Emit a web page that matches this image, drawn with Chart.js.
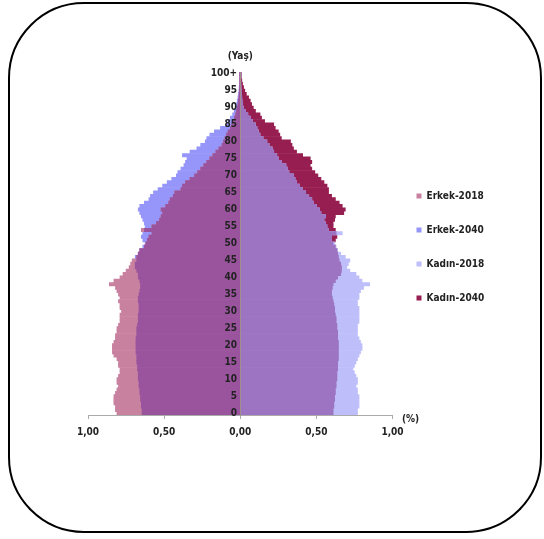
<!DOCTYPE html>
<html>
<head>
<meta charset="utf-8">
<script src="https://cdn.jsdelivr.net/npm/chart.js@4"></script>
<style>
  html, body { margin: 0; padding: 0; background: #fff; }
  #frame {
    position: absolute; left: 8px; top: 2px; width: 534px; height: 531px;
    box-sizing: border-box; border: 2px solid #000; border-radius: 76px;
  }
  #wrap { position: absolute; left: 0; top: 0; width: 544px; height: 539px; }
</style>
</head>
<body>
<div id="frame"></div>
<div id="wrap"><canvas id="piramit"></canvas></div>
<script>
// yaş grupları 0 .. 100+
const yaslar = Array.from({ length: 101 }, (_, i) => i === 100 ? "100+" : String(i));

// nüfus oranları (%), yaş 0'dan 100+'ya
const erkek2018 = [
  0.81, 0.82, 0.82, 0.83, 0.83, 0.83, 0.82, 0.81, 0.80, 0.81,
  0.81, 0.80, 0.79, 0.79, 0.80, 0.80, 0.81, 0.83, 0.84, 0.84,
  0.84, 0.83, 0.82, 0.82, 0.81, 0.81, 0.80, 0.79, 0.79, 0.79,
  0.78, 0.79, 0.79, 0.80, 0.79, 0.80, 0.81, 0.82, 0.86, 0.83,
  0.79, 0.77, 0.75, 0.73, 0.72, 0.71, 0.68, 0.67, 0.66, 0.63,
  0.62, 0.61, 0.60, 0.58, 0.65, 0.58, 0.55, 0.53, 0.52, 0.51,
  0.52, 0.49, 0.47, 0.46, 0.44, 0.43, 0.39, 0.38, 0.36, 0.33,
  0.30, 0.28, 0.26, 0.24, 0.22, 0.20, 0.18, 0.16, 0.14, 0.12,
  0.11, 0.10, 0.09, 0.08, 0.065, 0.055, 0.045, 0.038, 0.03, 0.025,
  0.02, 0.015, 0.012, 0.009, 0.007, 0.005, 0.004, 0.003, 0.002, 0.002,
  0.003
];
const erkek2040 = [
  0.645, 0.645, 0.65, 0.65, 0.655, 0.655, 0.66, 0.66, 0.665, 0.665,
  0.67, 0.67, 0.67, 0.675, 0.675, 0.68, 0.68, 0.68, 0.685, 0.685,
  0.685, 0.685, 0.685, 0.68, 0.68, 0.68, 0.675, 0.67, 0.67, 0.67,
  0.665, 0.665, 0.665, 0.67, 0.67, 0.665, 0.66, 0.655, 0.655, 0.66,
  0.67, 0.67, 0.68, 0.69, 0.69, 0.68, 0.69, 0.67, 0.66, 0.64,
  0.625, 0.64, 0.65, 0.64, 0.63, 0.625, 0.63, 0.64, 0.65, 0.66,
  0.67, 0.66, 0.63, 0.60, 0.59, 0.57, 0.54, 0.51, 0.48, 0.45,
  0.42, 0.41, 0.39, 0.37, 0.36, 0.35, 0.38, 0.33, 0.285, 0.26,
  0.23, 0.22, 0.20, 0.17, 0.13, 0.09, 0.08, 0.065, 0.05, 0.04,
  0.03, 0.025, 0.02, 0.015, 0.012, 0.009, 0.007, 0.005, 0.004, 0.003,
  0.005
];
const kadin2018 = [
  0.77, 0.77, 0.78, 0.78, 0.78, 0.78, 0.77, 0.77, 0.76, 0.77,
  0.77, 0.76, 0.75, 0.74, 0.75, 0.76, 0.77, 0.78, 0.79, 0.80,
  0.80, 0.79, 0.78, 0.77, 0.77, 0.77, 0.77, 0.78, 0.78, 0.78,
  0.78, 0.78, 0.77, 0.77, 0.78, 0.78, 0.79, 0.81, 0.85, 0.80,
  0.78, 0.76, 0.72, 0.70, 0.71, 0.72, 0.69, 0.66, 0.64, 0.63,
  0.62, 0.60, 0.60, 0.67, 0.58, 0.57, 0.56, 0.55, 0.56, 0.53,
  0.52, 0.50, 0.48, 0.47, 0.45, 0.43, 0.41, 0.39, 0.37, 0.36,
  0.35, 0.32, 0.31, 0.30, 0.27, 0.25, 0.24, 0.22, 0.21, 0.19,
  0.175, 0.15, 0.13, 0.12, 0.11, 0.10, 0.08, 0.066, 0.05, 0.035,
  0.02, 0.015, 0.012, 0.01, 0.008, 0.006, 0.005, 0.004, 0.003, 0.003,
  0.005
];
const kadin2040 = [
  0.61, 0.61, 0.615, 0.615, 0.62, 0.62, 0.625, 0.625, 0.63, 0.63,
  0.635, 0.635, 0.635, 0.64, 0.64, 0.64, 0.645, 0.645, 0.645, 0.645,
  0.645, 0.645, 0.64, 0.64, 0.64, 0.635, 0.635, 0.63, 0.63, 0.625,
  0.62, 0.62, 0.615, 0.61, 0.605, 0.60, 0.60, 0.605, 0.61, 0.625,
  0.64, 0.66, 0.665, 0.665, 0.66, 0.65, 0.645, 0.64, 0.635, 0.625,
  0.61, 0.625, 0.635, 0.63, 0.625, 0.61, 0.61, 0.62, 0.625, 0.68,
  0.69, 0.67, 0.65, 0.625, 0.60, 0.58, 0.58, 0.57, 0.55, 0.53,
  0.51, 0.49, 0.47, 0.46, 0.47, 0.46, 0.41, 0.37, 0.35, 0.34,
  0.33, 0.27, 0.26, 0.25, 0.23, 0.22, 0.16, 0.14, 0.13, 0.10,
  0.086, 0.075, 0.066, 0.055, 0.04, 0.03, 0.022, 0.015, 0.01, 0.007,
  0.008
];

// iki yılın çakıştığı kısım ayrı renkte (ortak alan)
const erkekOrtak = erkek2018.map((v, i) => -Math.min(v, erkek2040[i]));
const kadinOrtak = kadin2018.map((v, i) => Math.min(v, kadin2040[i]));

const FONT = "'Liberation Sans Narrow', 'DejaVu Sans Condensed', 'Liberation Sans', sans-serif";

// eksen başlıkları: (Yaş) üstte, (%) sağda
const eksenYazilari = {
  id: 'eksenYazilari',
  afterDraw(chart) {
    const { ctx, scales: { x, y } } = chart;
    ctx.save();
    ctx.font = 'bold 10px ' + FONT;
    ctx.fillStyle = '#222';
    ctx.textAlign = 'center';
    ctx.textBaseline = 'middle';
    ctx.fillText('(Yaş)', x.getPixelForValue(0), y.top - 16);
    ctx.fillText('(%)', x.right + 18, x.top + 4);
    ctx.restore();
  }
};

new Chart(document.getElementById('piramit'), {
  type: 'bar',
  data: {
    labels: yaslar,
    datasets: [
      // index 0-1: ortak alanlar, en üstte çizilir, lejantta yok
      { label: 'ortakE', data: erkekOrtak, backgroundColor: 'rgb(154,84,158)' },
      { label: 'ortakK', data: kadinOrtak, backgroundColor: 'rgb(156,116,194)' },
      { label: 'Erkek-2018', data: erkek2018.map(v => -v), backgroundColor: 'rgb(200,130,160)' },
      { label: 'Erkek-2040', data: erkek2040.map(v => -v), backgroundColor: 'rgb(150,150,250)' },
      { label: 'Kadın-2018', data: kadin2018, backgroundColor: 'rgb(190,190,250)' },
      { label: 'Kadın-2040', data: kadin2040, backgroundColor: 'rgb(150,30,80)' }
    ]
  },
  plugins: [eksenYazilari],
  options: {
    indexAxis: 'y',
    responsive: true,
    maintainAspectRatio: false,
    animation: false,
    layout: { padding: { left: 88, right: 50, top: 72, bottom: 94 } },
    datasets: { bar: { grouped: false, barPercentage: 1, categoryPercentage: 1, borderWidth: 0 } },
    scales: {
      x: {
        min: -1, max: 1,
        grid: { display: true, drawOnChartArea: false, tickLength: 4, color: '#aaa' },
        border: { display: true, color: '#aaa', width: 1 },
        ticks: {
          stepSize: 0.5, padding: 7, color: '#222',
          font: { family: FONT, size: 10, weight: 'bold' },
          callback: v => Math.abs(v).toFixed(2).replace('.', ',')
        }
      },
      y: {
        position: { x: 0 },
        reverse: true,
        z: 1,
        grid: { display: false },
        border: { display: true, color: '#a09088', width: 1, z: 1 },
        ticks: {
          z: 1, autoSkip: false, padding: 4, color: '#222',
          font: { family: FONT, size: 10, weight: 'bold' },
          // sondaki boşluk etiketi eksen çizgisinden biraz ayırır
          callback: function (v, i) { return i % 5 === 0 ? this.getLabelForValue(v) + ' ' : ''; }
        }
      }
    },
    plugins: {
      tooltip: { enabled: false },
      legend: {
        position: 'right',
        fullSize: false,
        title: { display: true, text: ' ', font: { size: 1 }, padding: 3 },
        labels: {
          boxWidth: 5, boxHeight: 5, padding: 24, color: '#222',
          font: { family: FONT, size: 10, weight: 'bold' },
          filter: item => item.datasetIndex > 1
        }
      }
    }
  }
});
</script>
</body>
</html>
